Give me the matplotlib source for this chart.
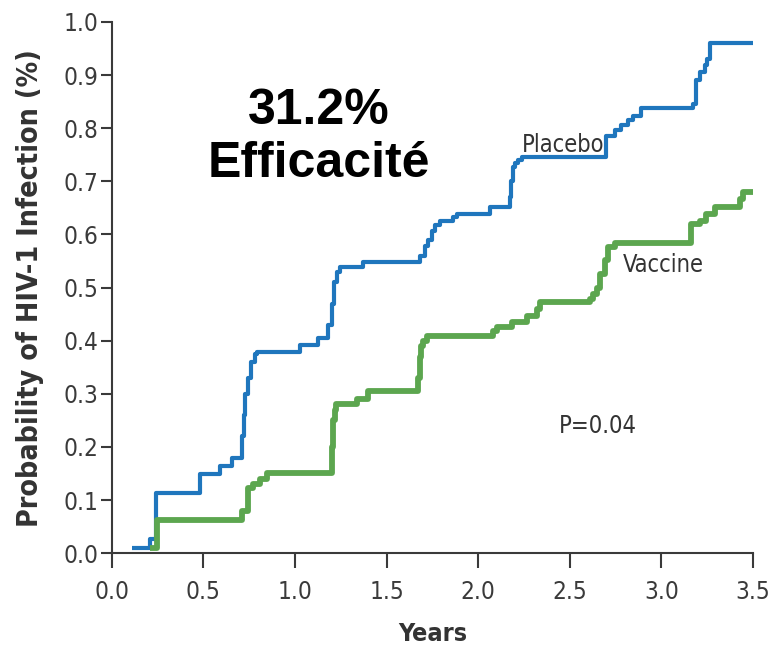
import matplotlib
matplotlib.use("Agg")
import matplotlib.pyplot as plt

# Kaplan-Meier style step curves (years, cumulative probability)
placebo_t = [0.109, 0.209, 0.242, 0.482, 0.591, 0.655, 0.709, 0.72, 0.73, 0.745, 0.76, 0.78, 0.791,
             1.027, 1.125, 1.18, 1.20, 1.215, 1.23, 1.245, 1.373, 1.682, 1.709, 1.726, 1.746, 1.764,
             1.791, 1.862, 1.882, 2.064, 2.173, 2.18, 2.19, 2.20, 2.215, 2.24, 2.70, 2.745, 2.782,
             2.818, 2.844, 2.891, 3.173, 3.19, 3.21, 3.237, 3.25, 3.264, 3.5]
placebo_p = [0.010, 0.026, 0.114, 0.150, 0.164, 0.180, 0.220, 0.260, 0.300, 0.330, 0.360, 0.375, 0.378,
             0.392, 0.406, 0.430, 0.470, 0.510, 0.530, 0.538, 0.549, 0.560, 0.579, 0.589, 0.607, 0.617,
             0.626, 0.633, 0.639, 0.652, 0.670, 0.700, 0.727, 0.735, 0.740, 0.745, 0.785, 0.796, 0.806,
             0.815, 0.822, 0.838, 0.846, 0.890, 0.906, 0.919, 0.930, 0.960, 0.960]

vaccine_t = [0.209, 0.247, 0.709, 0.745, 0.773, 0.809, 0.846, 1.20, 1.21, 1.22, 1.225, 1.337, 1.40,
             1.673, 1.68, 1.69, 1.70, 1.72, 2.082, 2.10, 2.182, 2.264, 2.32, 2.337, 2.61, 2.627, 2.646,
             2.664, 2.691, 2.71, 2.746, 3.164, 3.21, 3.246, 3.29, 3.427, 3.445, 3.5]
vaccine_p = [0.010, 0.062, 0.079, 0.123, 0.130, 0.139, 0.152, 0.200, 0.250, 0.270, 0.280, 0.290, 0.306,
             0.330, 0.370, 0.390, 0.400, 0.409, 0.419, 0.425, 0.435, 0.447, 0.460, 0.472, 0.479, 0.488, 0.500,
             0.526, 0.551, 0.576, 0.584, 0.620, 0.626, 0.639, 0.652, 0.667, 0.680, 0.680]

xticks = [0.0, 0.5, 1.0, 1.5, 2.0, 2.5, 3.0, 3.5]
yticks = [0.0, 0.1, 0.2, 0.3, 0.4, 0.5, 0.6, 0.7, 0.8, 0.9, 1.0]

fnt = dict(family="DejaVu Sans", stretch="condensed")
axc = "#3a3a3a"

fig = plt.figure(figsize=(7.71, 6.56), dpi=100)
ax = fig.add_axes([0.1449, 0.1566, 0.8318, 0.81])

ax.step(placebo_t, placebo_p, where="post", color="#1f76bd", lw=3.0, solid_capstyle="butt")
ax.step(vaccine_t, vaccine_p, where="post", color="#5ca64f", lw=4.2, solid_capstyle="butt")

ax.set_xlim(0, 3.5)
ax.set_ylim(0, 1.0)
ax.set_xticks(xticks)
ax.set_yticks(yticks)
ax.set_xticklabels(["%.1f" % v for v in xticks], fontsize=17.5, color=axc, **fnt)
ax.set_yticklabels(["%.1f" % v for v in yticks], fontsize=17.5, color=axc, **fnt)
ax.tick_params(axis="x", direction="out", length=11, width=1.5, color=axc, pad=8)
ax.tick_params(axis="y", direction="out", length=8, width=1.5, color=axc, pad=1.5)
for s in ["top", "right"]:
    ax.spines[s].set_visible(False)
for s in ["left", "bottom"]:
    ax.spines[s].set_color(axc)
    ax.spines[s].set_linewidth(1.5)

ax.set_xlabel("Years", fontsize=18, fontweight="bold", color="#333333", labelpad=13, **fnt)
ax.set_ylabel("Probability of HIV-1 Infection (%)", fontsize=20.5, fontweight="bold",
              color="#333333", labelpad=14, **fnt)

big = dict(family=["Liberation Sans", "DejaVu Sans"], fontsize=36, fontweight="bold",
           ha="center", va="center")
ax.text(1.13, 0.832, "31.2%", **big)
ax.text(1.13, 0.732, "Efficacité", **big)
ax.text(2.237, 0.756, "Placebo", fontsize=17, color="#333333", ha="left", va="baseline", **fnt)
ax.text(2.79, 0.53, "Vaccine", fontsize=17, color="#333333", ha="left", va="baseline", **fnt)
ax.text(2.44, 0.24, "P=0.04", fontsize=17, color="#333333", ha="left", va="center", **fnt)

fig.savefig("out.png", dpi=100)
